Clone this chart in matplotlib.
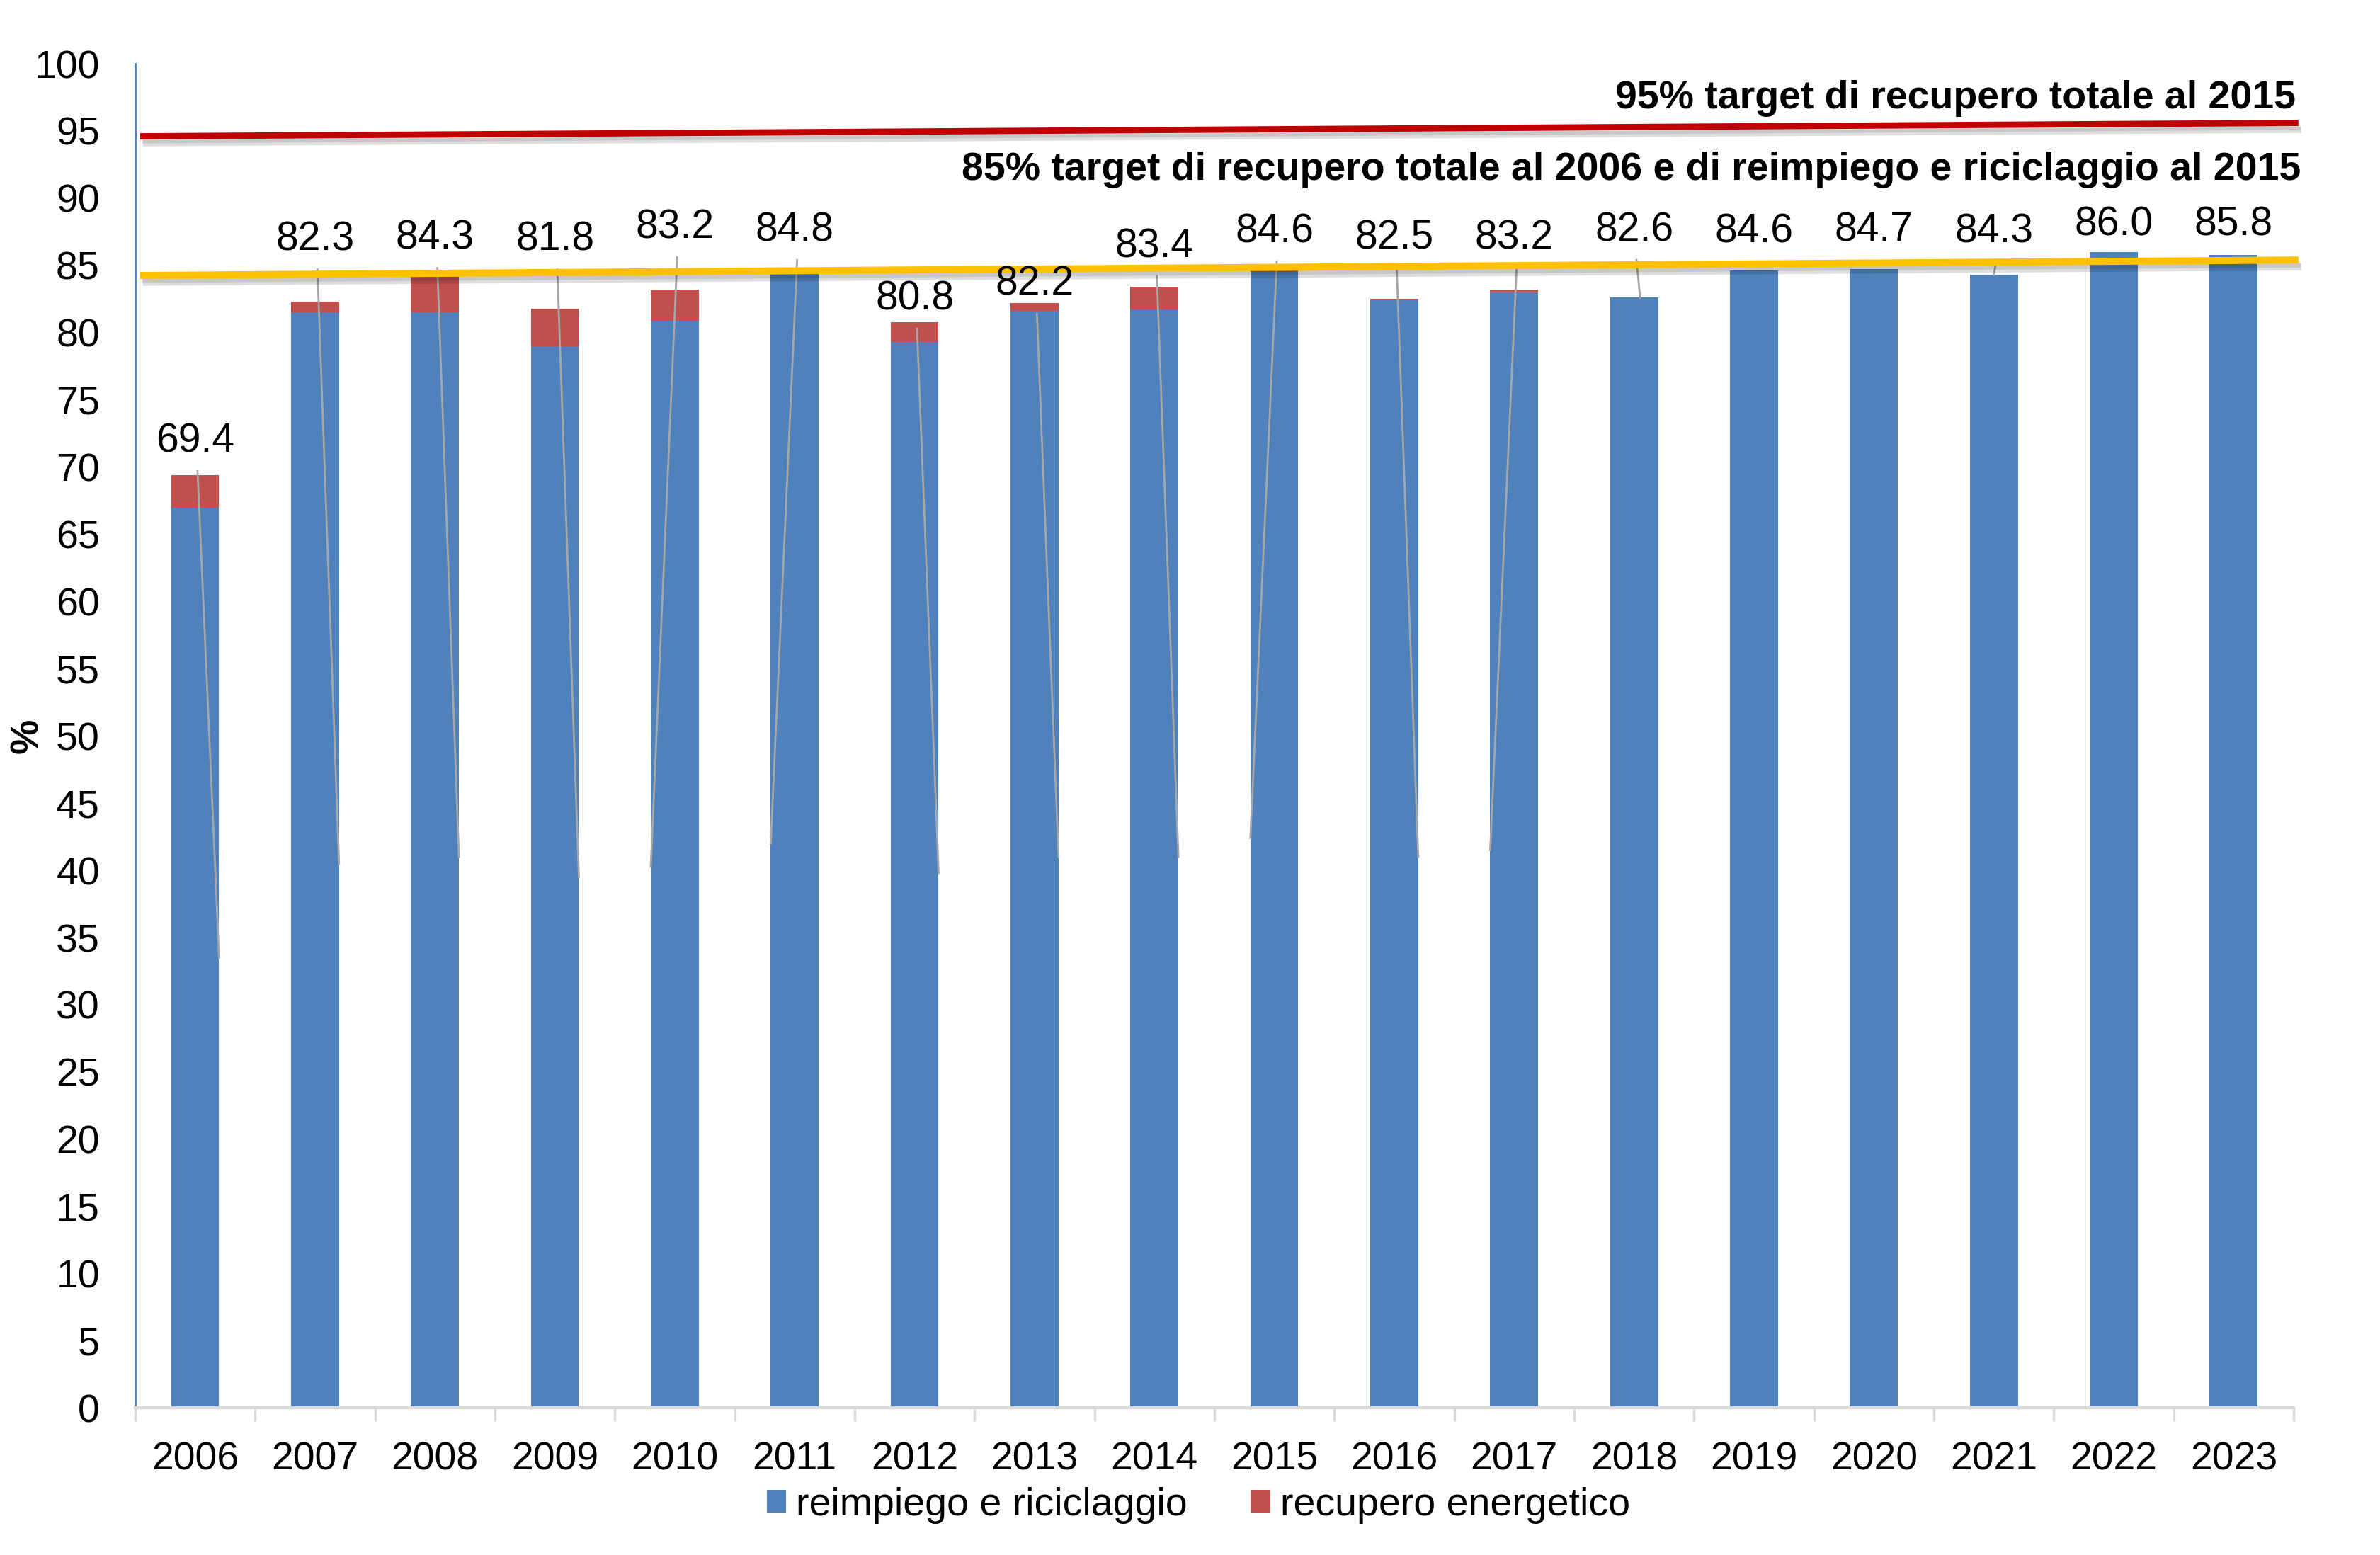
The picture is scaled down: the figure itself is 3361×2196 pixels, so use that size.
import matplotlib.pyplot as plt
import matplotlib.patheffects as pe
from matplotlib.ticker import FixedLocator
import numpy as np

plt.rcParams['font.family'] = ['Liberation Sans', 'DejaVu Sans']

years = ["2006", "2007", "2008", "2009", "2010", "2011", "2012", "2013", "2014",
         "2015", "2016", "2017", "2018", "2019", "2020", "2021", "2022", "2023"]
totale = [69.4, 82.3, 84.3, 81.8, 83.2, 84.8, 80.8, 82.2, 83.4,
          84.6, 82.5, 83.2, 82.6, 84.6, 84.7, 84.3, 86.0, 85.8]
riciclaggio = [67.0, 81.5, 81.5, 79.0, 80.9, 84.5, 79.3, 81.6, 81.7,
               84.5, 82.4, 83.0, 82.6, 84.6, 84.7, 84.3, 86.0, 85.8]
energetico = [round(t - r, 1) for t, r in zip(totale, riciclaggio)]

# where the data labels sit (Excel had them dragged around)
label_y = [71.9, 86.9, 87.0, 86.9, 87.8, 87.6, 82.5, 83.6, 86.4,
           87.5, 87.0, 87.0, 87.6, 87.5, 87.6, 87.5, 88.0, 88.0]
# leader lines: end point inside the bar (None = no leader)
leader_end = [33.5, 40.5, 41.0, 39.5, 40.3, 42.0, 39.8, 41.0, 41.0,
              42.4, 41.0, 41.5, 82.6, None, None, 84.3, None, None]
leader_dx = [0.2, 0.2, 0.2, 0.2, -0.2, -0.2, 0.2, 0.2, 0.2,
             -0.2, 0.2, -0.2, 0.05, 0, 0, 0, 0, 0]

target95 = [94.6, 95.6]
target85 = [84.25, 85.4]
target95_txt = "95% target di recupero totale al 2015"
target85_txt = "85% target di recupero totale al 2006 e di reimpiego e riciclaggio al 2015"

blue = "#4F81BD"
red = "#C0504D"

fig = plt.figure(figsize=(16.805, 10.98), dpi=200)
ax = fig.add_axes([0.0568, 0.0945, 0.9069, 0.8645])

x = np.arange(len(years))
b1 = ax.bar(x, riciclaggio, width=0.4, color=blue, label="reimpiego e riciclaggio", zorder=2)
b2 = ax.bar(x, energetico, width=0.4, bottom=riciclaggio, color=red, label="recupero energetico", zorder=2)

# leader lines
for i in range(len(years)):
    if leader_end[i] is None:
        continue
    ax.plot([x[i] + 0.02, x[i] + leader_dx[i]], [label_y[i] - 2.2, leader_end[i]],
            color="#A6A6A6", lw=1.0, zorder=3)

# value labels
for i in range(len(years)):
    ax.text(x[i], label_y[i], "%.1f" % totale[i], ha="center", va="center",
            fontsize=20.5, zorder=5)

# target lines with soft shadow
shadow = [pe.SimpleLineShadow(offset=(1.5, -3.5), shadow_color="black", alpha=0.13),
          pe.SimpleLineShadow(offset=(1.0, -2.0), shadow_color="black", alpha=0.1),
          pe.Normal()]
ax.plot([-0.46, 17.54], target95, color="#C00000", lw=3.2, solid_capstyle="butt",
        clip_on=False, zorder=4, path_effects=shadow)
ax.plot([-0.46, 17.54], target85, color="#FFC000", lw=3.6, solid_capstyle="butt",
        clip_on=False, zorder=4, path_effects=shadow)
ax.text(17.52, 97.4, target95_txt, ha="right", va="center", fontsize=20,
        fontweight="bold", zorder=5)
ax.text(17.56, 92.1, target85_txt, ha="right", va="center", fontsize=20,
        fontweight="bold", zorder=5)

ax.set_xlim(-0.5, 17.5)
ax.set_ylim(0, 100)
ax.set_yticks(np.arange(0, 101, 5))
ax.tick_params(axis="y", length=0, pad=18, labelsize=20)
ax.set_xticks(x)
ax.set_xticklabels(years)
ax.xaxis.set_minor_locator(FixedLocator(np.arange(-0.5, 18, 1)))
ax.tick_params(axis="x", which="major", length=0, pad=17, labelsize=20)
ax.tick_params(axis="x", which="minor", length=7, width=1.2, color="#D9D9D9")

for s in ["top", "right"]:
    ax.spines[s].set_visible(False)
ax.spines["left"].set_color(blue)
ax.spines["left"].set_linewidth(1.0)
ax.spines["bottom"].set_color("#D9D9D9")
ax.spines["bottom"].set_linewidth(1.6)

fig.text(0.0115, 0.5268, "%", rotation=90, ha="center", va="center",
         fontsize=20, fontweight="bold")

fig.legend(handles=[b1, b2], loc="center", bbox_to_anchor=(0.5035, 0.032),
           ncol=2, frameon=False, fontsize=20, handlelength=0.5, handleheight=0.5,
           handletextpad=0.25, columnspacing=1.6)

fig.savefig("out.png", dpi=200)
